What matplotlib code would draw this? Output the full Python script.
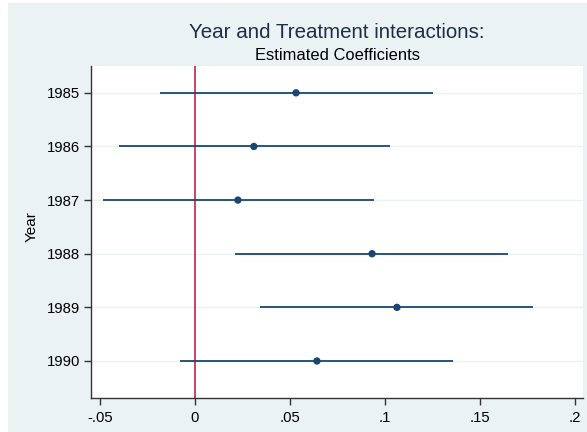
import matplotlib
matplotlib.use("Agg")
import matplotlib.pyplot as plt
from matplotlib.patches import Rectangle

years = [1985, 1986, 1987, 1988, 1989, 1990]
coef = [0.0532, 0.0310, 0.0226, 0.0932, 0.1063, 0.0642]
ci_low = [-0.0184, -0.0400, -0.0484, 0.0210, 0.0340, -0.0079]
ci_high = [0.1253, 0.1026, 0.0942, 0.1647, 0.1780, 0.1358]
xticks = [-0.05, 0, 0.05, 0.1, 0.15, 0.2]
xticklabels = ["-.05", "0", ".05", ".1", ".15", ".2"]

plt.rcParams["font.family"] = ["Liberation Sans", "DejaVu Sans"]

W, H = 587, 432
fig = plt.figure(figsize=(W / 100, H / 100), dpi=100)
fig.patch.set_facecolor("white")
bg = "#EAF2F3"
fig.patches.append(Rectangle((8 / W, 0), 1 - 8 / W, 1 - 3 / H, transform=fig.transFigure,
                             facecolor=bg, edgecolor="none", zorder=-10))

left, right, top, bottom = 91, 583, 66, 398
ax = fig.add_axes([left / W, 1 - bottom / H, (right - left) / W, (bottom - top) / H])
ax.set_facecolor("white")

navy = "#1a476f"
for y, lo, hi in zip(years, ci_low, ci_high):
    ax.plot([lo, hi], [y, y], color=navy, lw=1.3, zorder=3, solid_capstyle="butt")
ax.scatter(coef, years, s=28, color=navy, zorder=4, edgecolors="none")
ax.axvline(0, color="#b8123c", lw=1.1, zorder=2)

ax.set_xlim(-0.0547, 0.2042)
ax.set_ylim(1990.69, 1984.5)
ax.set_yticks(years)
ax.set_yticklabels([str(y) for y in years])
ax.set_xticks(xticks)
ax.set_xticklabels(xticklabels)
ax.grid(axis="y", color="#EAF2F3", lw=1.0, zorder=0)
ax.set_axisbelow(True)

for s in ["top", "right"]:
    ax.spines[s].set_visible(False)
for s in ["left", "bottom"]:
    ax.spines[s].set_color("#333333")
    ax.spines[s].set_linewidth(1.0)
ax.tick_params(axis="both", colors="#333333", labelcolor="black", labelsize=10.7, length=5, width=1)
ax.tick_params(axis="y", pad=3)
ax.tick_params(axis="x", pad=4)

fig.text(32 / W, 1 - 227 / H, "Year", rotation=90, ha="center", va="center",
         fontsize=11, color="black")
fig.text(337 / W, 1 - 38 / H, "Year and Treatment interactions:", ha="center", va="baseline",
         fontsize=14.8, color="#1e2d4a")
fig.text(337.5 / W, 1 - 60 / H, "Estimated Coefficients", ha="center", va="baseline",
         fontsize=11.9, color="black")

fig.savefig("out.png", dpi=100, facecolor=fig.get_facecolor())
